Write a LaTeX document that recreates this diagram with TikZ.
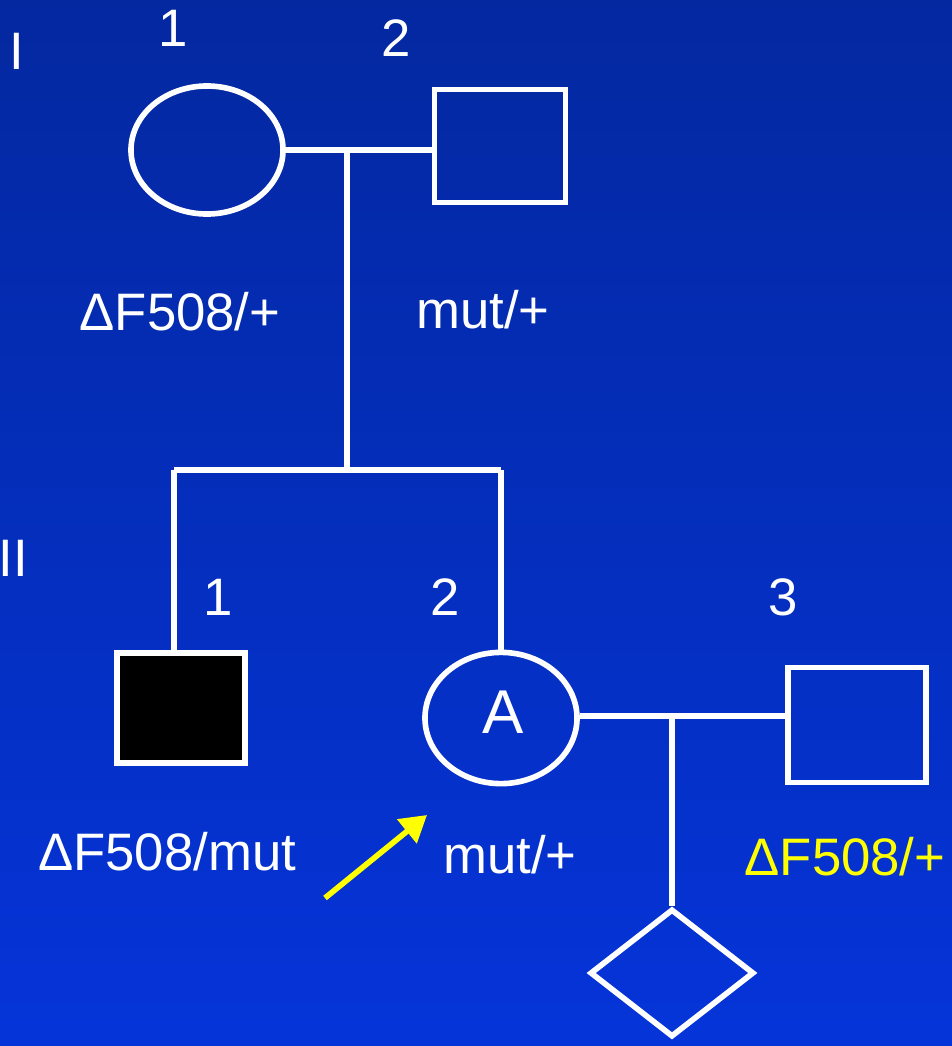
\documentclass[tikz,border=0pt]{standalone}
\usepackage{fontspec}
\setmainfont{Liberation Sans}
\usepackage{xcolor}
\usetikzlibrary{arrows.meta,positioning,shapes.geometric}
\definecolor{PedTop}{HTML}{0428A0}
\definecolor{PedBottom}{HTML}{0534D9}
\definecolor{PedYellow}{HTML}{FFFF00}
\tikzset{
  pedtext/.style={text=white,font=\fontsize{37.5}{43}\selectfont,inner sep=0pt},
  femalebox/.style={ellipse,draw=white,line width=4pt,inner sep=0pt,minimum width=3.8cm,minimum height=3.2cm},
  malebox/.style={rectangle,draw=white,line width=4pt,inner sep=0pt},
  unknownbox/.style={diamond,draw=white,line width=4pt,inner sep=0pt,minimum width=4.1cm,minimum height=3.2cm},
  pedline/.style={draw=white,line width=4pt},
  probandarrow/.style={-{Triangle[length=6.5mm,width=7.5mm]},line width=4pt,draw=PedYellow}
}
\begin{document}
\begin{tikzpicture}[x=0.025cm,y=-0.025cm]
\fill[top color=PedTop,bottom color=PedBottom] (0,0) rectangle (952,1046);
\useasboundingbox (0,0) rectangle (952,1046);
% generation I
\node[pedtext] (genI) at (17,51) {I};
\node[pedtext] (n11) at (173,28) {1};
\node[pedtext] (n12) at (396,38) {2};
\node[femalebox] (f11) at (207,150) {};
\node[malebox,minimum width=3.28cm,minimum height=2.83cm] (m12) at (500,146) {};
\coordinate (mate1) at (347,150);
\coordinate (sib1) at (347,470);
\coordinate (sibL) at (174,470);
\coordinate (sibR) at (501,470);
\draw[pedline] (f11.east) -- (m12.west |- f11.east);
\draw[pedline] (mate1) -- (sib1);
\draw[pedline] (sibL) -- (sibR);
\node[pedtext] (g11) at (180,312) {ΔF508/+};
\node[pedtext] (g12) at (483,310) {mut/+};
% generation II
\node[pedtext] (genII) at (13,558) {II};
\node[pedtext] (n21) at (218,597) {1};
\node[pedtext] (n22) at (445,597) {2};
\node[pedtext] (n23) at (783,597) {3};
\node[malebox,fill=black,minimum width=3.2cm,minimum height=2.75cm] (m21) at (181,708) {};
\node[femalebox,minimum height=3.28cm] (f22) at (501,718) {};
\node[pedtext,font=\fontsize{44}{50}\selectfont] (labA) at (503,712) {A};
\node[malebox,minimum width=3.45cm,minimum height=2.88cm] (m23) at (857,725) {};
\draw[pedline] (sibL) -- (sibL |- m21.north);
\draw[pedline] (sibR) -- (f22.north);
\coordinate (mate2) at (672,716);
\draw[pedline] (f22.east |- mate2) -- (m23.west |- mate2);
\node[unknownbox] (d31) at (672,973) {};
\draw[pedline] (mate2) -- (d31.north);
\node[pedtext] (g21) at (167,852) {ΔF508/mut};
\node[pedtext] (g22) at (510,855) {mut/+};
\node[pedtext,text=PedYellow] (g23) at (845,857) {ΔF508/+};
\coordinate (arrtail) at (325,898);
\coordinate (arrhead) at (427,815);
\draw[probandarrow] (arrtail) -- (arrhead);
\end{tikzpicture}
\end{document}
